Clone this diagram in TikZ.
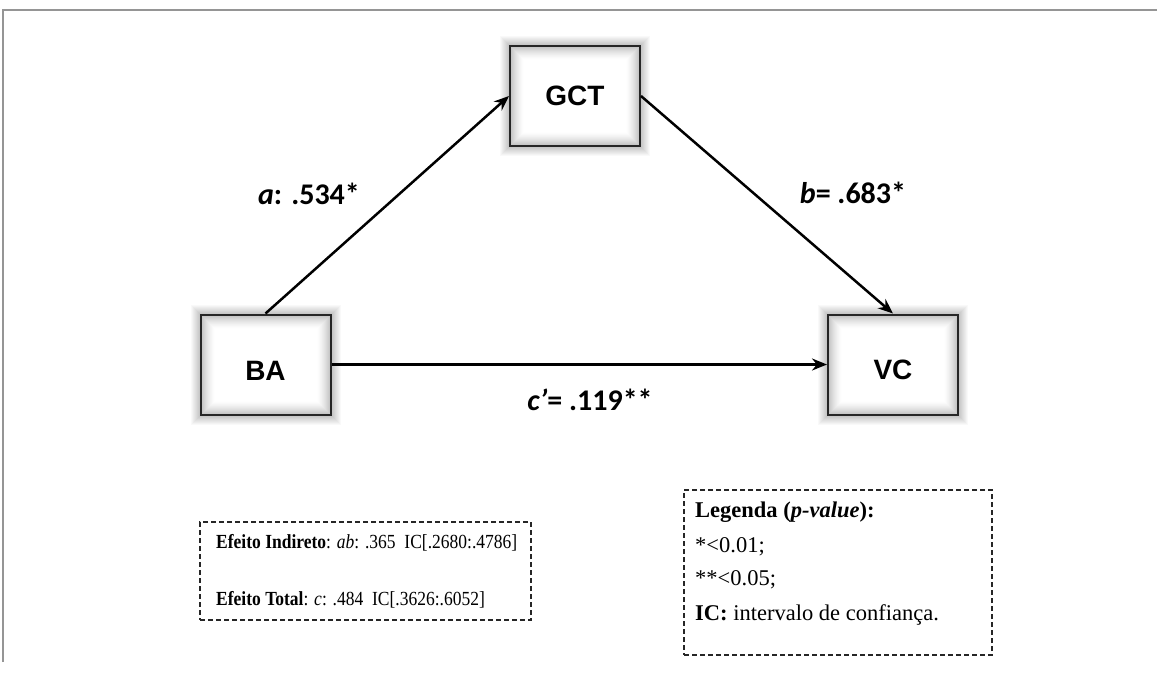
\documentclass[tikz,border=0pt]{standalone}
\usepackage{fontspec}
\setmainfont{Liberation Serif}
\newfontfamily\arialf{Liberation Sans}
\newfontfamily\calib{Carlito}
\usetikzlibrary{arrows.meta}
\definecolor{framegray}{HTML}{959595}
\tikzset{
  varbox/.style={draw=black!85, line width=2pt, minimum width=130pt, minimum height=100pt, inner sep=0pt, font=\arialf\bfseries\fontsize{28}{32}\selectfont},
  coef/.style={font=\calib\bfseries\fontsize{30}{34}\selectfont, inner sep=0pt},
  arr/.style={line width=2.5pt, -{Stealth[length=15pt,width=12pt]}},
  notebox/.style={draw=black!85, dash pattern=on 5pt off 3pt, line width=1.3pt, inner sep=0pt},
  ltext/.style={font=\fontsize{20}{24}\selectfont, anchor=west, inner sep=0pt},
  gtext/.style={font=\fontsize{22.5}{27}\selectfont, anchor=west, inner sep=0pt}
}
\newcommand\softshade[1]{%
  \foreach \i in {1,...,9}{%
    \pgfmathsetmacro\op{0.22*(1-(\i-1)/9)}%
    \draw[line width=1pt, black, opacity=\op] ([shift={(-\i+0.5,-\i+0.5)}]#1.north west) rectangle ([shift={(\i-0.5,\i-0.5)}]#1.south east);
  }
  \foreach \i in {1,...,13}{%
    \pgfmathsetmacro\op{0.22*(1-(\i-1)/13)^1.5}%
    \draw[line width=1pt, black, opacity=\op] ([shift={(\i+1.5,\i+1.5)}]#1.north west) rectangle ([shift={(-\i-1.5,-\i-1.5)}]#1.south east);
  }}
\begin{document}
\begin{tikzpicture}[x=1pt, y=-1pt]
\useasboundingbox[fill=white] (0,0) rectangle (1157,675);
\draw[framegray, line width=2pt] (3,662) -- (3,10) -- (1157,10);

\node[varbox] (gct) at (575,96) {GCT};
\node[varbox, text height=31pt] (ba) at (265.5,364.5) {BA};
\node[varbox, text height=31pt] (vc) at (893,364.5) {VC};
\softshade{gct}
\softshade{ba}
\softshade{vc}

\draw[arr] (ba.north) -- (gct.west);
\draw[arr] (gct.east) -- (vc.north);
\draw[arr] (ba.east) -- (vc.west);

\node[coef] (la) at (309,194) {\itshape a\upshape: .534*};
\node[coef] (lb) at (853,193) {\itshape b\upshape= .683*};
\node[coef] (lc) at (590,400) {\itshape c’\upshape= .119**};

\node[notebox, minimum width=331pt, minimum height=98pt] (eff) at (365.5,571) {};
\node[ltext] (e1) at (216,543) {\scalebox{0.875}[1]{\textbf{Efeito Indireto}: \textit{ab}: .365\ \ IC[.2680:.4786]}};
\node[ltext] (e2) at (216,600) {\scalebox{0.875}[1]{\textbf{Efeito Total}: \textit{c}: .484\ \ IC[.3626:.6052]}};

\node[notebox, minimum width=308pt, minimum height=165pt] (leg) at (838,572.5) {};
\node[gtext] (g1) at (695,512) {\textbf{Legenda (\textit{p-value}):}};
\node[gtext] (g2) at (695,547) {*<0.01;};
\node[gtext] (g3) at (695,580) {**<0.05;};
\node[gtext] (g4) at (695,615) {\textbf{IC:} intervalo de confiança.};
\end{tikzpicture}
\end{document}
